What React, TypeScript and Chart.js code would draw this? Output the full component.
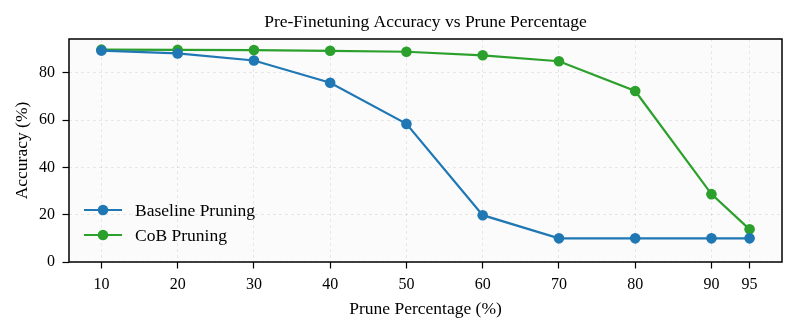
import React, { useEffect, useRef } from "react";
import { Chart, registerables } from "chart.js";

Chart.register(...registerables);

const prunePercentages = [10, 20, 30, 40, 50, 60, 70, 80, 90, 95];
const baselineAccuracy = [89.4, 88.2, 85.2, 75.8, 58.4, 19.8, 10, 10, 10, 10];
const cobAccuracy = [89.8, 89.7, 89.6, 89.3, 88.9, 87.4, 84.9, 72.3, 28.7, 13.8];
const xTicks = [10, 20, 30, 40, 50, 60, 70, 80, 90, 95];
const yTicks = [0, 20, 40, 60, 80];

const FONT = "'Liberation Serif', 'Times New Roman', serif";
const BLUE = "#1f77b4";
const GREEN = "#2ca02c";

export default function App() {
  const ref = useRef<HTMLCanvasElement | null>(null);

  useEffect(() => {
    document.body.style.margin = "0";
    const canvas = ref.current;
    if (!canvas) return;

    const framePlugin = {
      id: "frame",
      beforeDraw(chart: any) {
        const { ctx, chartArea: a } = chart;
        ctx.save();
        ctx.fillStyle = "#ffffff";
        ctx.fillRect(0, 0, chart.width, chart.height);
        ctx.fillStyle = "#fbfbfb";
        ctx.fillRect(a.left, a.top, a.right - a.left, a.bottom - a.top);
        ctx.restore();
      },
      afterDatasetsDraw(chart: any) {
        const { ctx, chartArea: a } = chart;
        ctx.save();
        ctx.strokeStyle = "#000000";
        ctx.lineWidth = 1.5;
        ctx.strokeRect(a.left, a.top, a.right - a.left, a.bottom - a.top);
        // title
        ctx.fillStyle = "#000";
        ctx.font = `17.5px ${FONT}`;
        ctx.textAlign = "center";
        ctx.textBaseline = "alphabetic";
        ctx.fillText("Pre-Finetuning Accuracy vs Prune Percentage", (a.left + a.right) / 2, 26.5);
        // legend
        const items = [
          { label: "Baseline Pruning", color: BLUE },
          { label: "CoB Pruning", color: GREEN },
        ];
        items.forEach((it, i) => {
          const y = 210 + i * 25;
          ctx.strokeStyle = it.color;
          ctx.lineWidth = 2.2;
          ctx.beginPath();
          ctx.moveTo(84, y);
          ctx.lineTo(122, y);
          ctx.stroke();
          ctx.fillStyle = it.color;
          ctx.beginPath();
          ctx.arc(103, y, 5.3, 0, Math.PI * 2);
          ctx.fill();
          ctx.fillStyle = "#000";
          ctx.textAlign = "left";
          ctx.textBaseline = "middle";
          ctx.font = `17.5px ${FONT}`;
          ctx.fillText(it.label, 135, y + 1);
        });
        ctx.restore();
      },
    };

    const chart = new Chart(canvas, {
      type: "line",
      data: {
        datasets: [
          {
            label: "Baseline Pruning",
            data: prunePercentages.map((x, i) => ({ x, y: baselineAccuracy[i] })),
            borderColor: BLUE,
            backgroundColor: BLUE,
            borderWidth: 2.2,
            pointRadius: 5.3,
            pointBorderWidth: 0,
            pointHoverRadius: 5.3,
          },
          {
            label: "CoB Pruning",
            data: prunePercentages.map((x, i) => ({ x, y: cobAccuracy[i] })),
            borderColor: GREEN,
            backgroundColor: GREEN,
            borderWidth: 2.2,
            pointRadius: 5.3,
            pointBorderWidth: 0,
            pointHoverRadius: 5.3,
          },
        ],
      },
      plugins: [framePlugin],
      options: {
        animation: false,
        responsive: false,
        devicePixelRatio: 1,
        layout: { padding: { left: 0, right: 11, top: 39, bottom: 0 } },
        plugins: {
          legend: { display: false },
          title: { display: false },
          tooltip: { enabled: false },
        },
        scales: {
          x: {
            type: "linear",
            min: 5.75,
            max: 99.25,
            afterBuildTicks: (s: any) => {
              s.ticks = xTicks.map((v) => ({ value: v }));
            },
            afterFit: (s: any) => {
              s.height = 69;
            },
            grid: {
              color: "rgba(0,0,0,0.08)",
              lineWidth: 1,
              tickColor: "#000",
              tickLength: 6.5,
              tickWidth: 1.2,
              drawTicks: true,
            } as any,
            border: { display: false, dash: [3, 3] } as any,
            ticks: {
              color: "#000",
              font: { family: FONT, size: 16 },
              padding: 6.5,
              autoSkip: false,
              maxRotation: 0,
              callback: (v: any) => String(v),
            },
            title: {
              display: true,
              text: "Prune Percentage (%)",
              color: "#000",
              font: { family: FONT, size: 17.5 },
              padding: { top: 0, bottom: 11 },
            },
          },
          y: {
            type: "linear",
            min: 0,
            max: 94.3,
            afterBuildTicks: (s: any) => {
              s.ticks = yTicks.map((v) => ({ value: v }));
            },
            afterFit: (s: any) => {
              s.width = 69;
            },
            grid: {
              color: "rgba(0,0,0,0.08)",
              lineWidth: 1,
              tickColor: "#000",
              tickLength: 6.5,
              tickWidth: 1.2,
            } as any,
            border: { display: false, dash: [3, 3] } as any,
            ticks: {
              color: "#000",
              font: { family: FONT, size: 16 },
              padding: 7.5,
              callback: (v: any) => String(v),
            },
            title: {
              display: true,
              text: "Accuracy (%)",
              color: "#000",
              font: { family: FONT, size: 17.5 },
              padding: { top: 12, bottom: 0 },
            },
          },
        },
      },
    } as any);

    return () => chart.destroy();
  }, []);

  return <canvas ref={ref} width={793} height={331} style={{ display: "block" }} />;
}
